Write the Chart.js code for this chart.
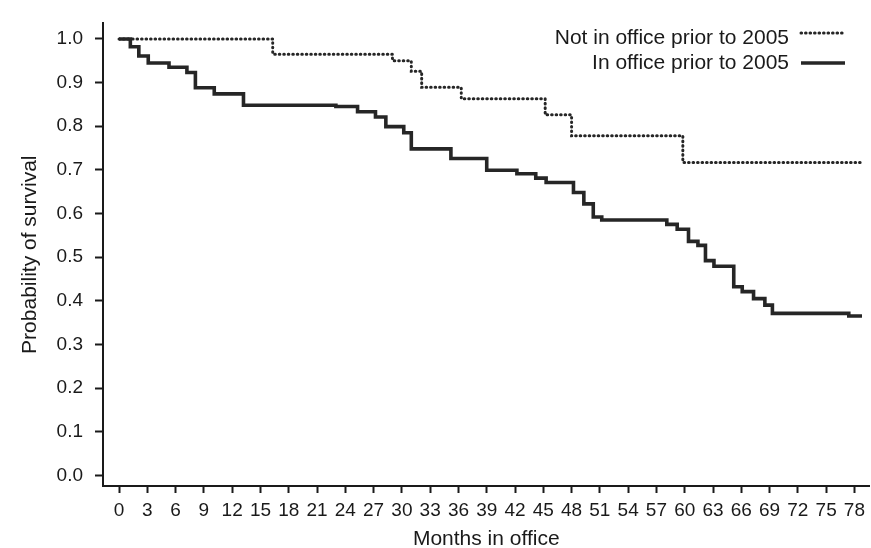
<!DOCTYPE html>
<html>
<head>
<meta charset="utf-8">
<script src="https://cdn.jsdelivr.net/npm/chart.js@4"></script>
<style>
  body { margin: 0; background: #fff; }
  canvas { display: block; }
</style>
</head>
<body>
<canvas id="myChart" width="871" height="548"></canvas>
<script>
// Kaplan-Meier curves (month of each drop, survival after it)
const notInOfficeMonths = [0, 16.3, 29.0, 31.0, 32.1, 36.3, 45.2, 48.0, 59.8, 78.7];
const notInOfficeSurv = [1.0, 0.965, 0.950, 0.926, 0.889, 0.863, 0.826, 0.778, 0.717, 0.717];

const inOfficeMonths = [0, 1.2, 2.1, 3.1, 5.3, 7.2, 8.1, 10.1, 13.2, 23.0, 25.3, 27.2, 28.3,
  30.2, 31.0, 35.2, 39.0, 42.2, 44.2, 45.3, 48.2, 49.3, 50.3, 51.2, 58.1, 59.2, 60.4, 61.4,
  62.2, 63.1, 65.2, 66.1, 67.3, 68.5, 69.3, 77.4, 78.8];
const inOfficeSurv = [1.0, 0.982, 0.961, 0.945, 0.935, 0.923, 0.888, 0.874, 0.848, 0.845, 0.833,
  0.821, 0.799, 0.785, 0.748, 0.726, 0.699, 0.691, 0.681, 0.671, 0.648, 0.622, 0.592, 0.585,
  0.575, 0.564, 0.536, 0.527, 0.492, 0.479, 0.432, 0.421, 0.405, 0.390, 0.371, 0.365, 0.365];

const seriesLabels = ['Not in office prior to 2005', 'In office prior to 2005'];
const xTicks = [0, 3, 6, 9, 12, 15, 18, 21, 24, 27, 30, 33, 36, 39, 42, 45, 48, 51, 54, 57, 60, 63, 66, 69, 72, 75, 78];
const yTicks = [0, 0.1, 0.2, 0.3, 0.4, 0.5, 0.6, 0.7, 0.8, 0.9, 1.0];

const ink = '#1a1a1a';
const fontFam = '"Liberation Sans", Arial, Helvetica, sans-serif';

function punti(meses, surv) {
    return meses.map((m, i) => ({ x: m, y: surv[i] }));
}

// legend sits inside the plot, text first then the line sample
const legendaDentro = {
    id: 'legendaDentro',
    afterDraw(chart) {
        const ctx = chart.ctx;
        const rows = [{ ty: 38, ly: 33 }, { ty: 63, ly: 63 }];
        ctx.save();
        ctx.font = '21px ' + fontFam;
        ctx.fillStyle = ink;
        ctx.textAlign = 'right';
        ctx.textBaseline = 'middle';
        chart.data.datasets.forEach((ds, i) => {
            const r = rows[i];
            ctx.fillText(ds.label, 789, r.ty);
            ctx.strokeStyle = ds.borderColor;
            ctx.lineWidth = ds.borderWidth;
            ctx.setLineDash(ds.borderDash || []);
            ctx.lineCap = ds.borderCapStyle || 'butt';
            ctx.beginPath();
            ctx.moveTo(801, r.ly);
            ctx.lineTo(845, r.ly);
            ctx.stroke();
        });
        ctx.restore();
    }
};

var u = document.getElementById('myChart').getContext('2d');
var grafico = new Chart(u, {
    type: 'line',
    data: {
        datasets: [{
            label: seriesLabels[0],
            data: punti(notInOfficeMonths, notInOfficeSurv),
            stepped: 'before',
            borderColor: '#262626',
            borderWidth: 3,
            borderDash: [0.6, 3.9],
            borderCapStyle: 'round',
            pointRadius: 0,
            fill: false
        }, {
            label: seriesLabels[1],
            data: punti(inOfficeMonths, inOfficeSurv),
            stepped: 'before',
            borderColor: '#262626',
            borderWidth: 3.6,
            pointRadius: 0,
            fill: false
        }]
    },
    options: {
        responsive: false,
        animation: false,
        layout: { padding: { top: 10, right: 0, bottom: 0, left: 0 } },
        plugins: {
            legend: { display: false },
            tooltip: { enabled: false }
        },
        scales: {
            x: {
                type: 'linear',
                min: -1.7,
                max: 79.6,
                afterBuildTicks: s => { s.ticks = xTicks.map(v => ({ value: v })); },
                afterFit: s => { s.height = 62; },
                grid: { drawOnChartArea: false, tickLength: 7, tickWidth: 2, tickColor: ink },
                border: { color: ink, width: 2 },
                ticks: { color: ink, font: { family: fontFam, size: 19 }, padding: 6, maxRotation: 0, autoSkip: false },
                title: {
                    display: true,
                    text: 'Months in office',
                    color: ink,
                    font: { family: fontFam, size: 21, lineHeight: 0.8 },
                    padding: { top: 0, bottom: 0 }
                }
            },
            y: {
                min: -0.0245,
                max: 1.0356,
                afterBuildTicks: s => { s.ticks = yTicks.map(v => ({ value: v })); },
                afterFit: s => { s.width = 103; },
                grid: { drawOnChartArea: false, tickLength: 8, tickWidth: 2, tickColor: ink },
                border: { color: ink, width: 2 },
                ticks: {
                    color: ink,
                    font: { family: fontFam, size: 19 },
                    padding: 12,
                    callback: v => v.toFixed(1)
                },
                title: {
                    display: true,
                    text: 'Probability of survival',
                    color: ink,
                    font: { family: fontFam, size: 21, lineHeight: 1 },
                    padding: { top: 20, bottom: 0 }
                }
            }
        }
    },
    plugins: [legendaDentro]
});
</script>
</body>
</html>
